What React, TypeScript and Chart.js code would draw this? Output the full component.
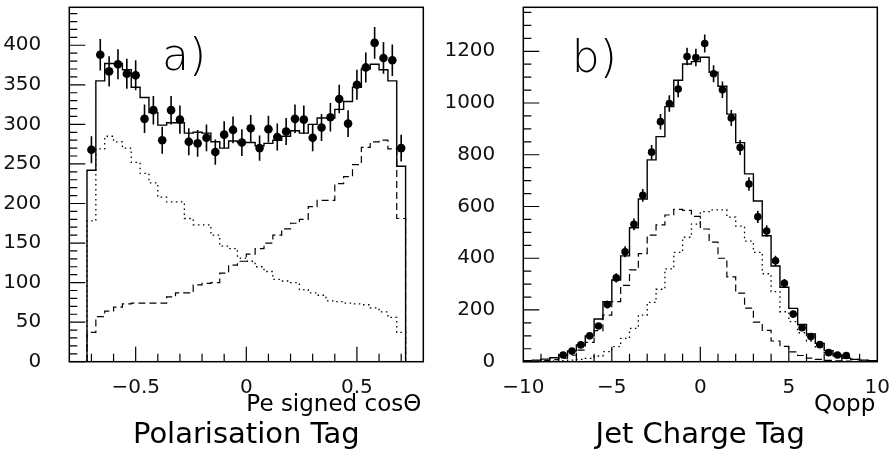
import React, { useEffect, useRef } from "react";
import { Chart, registerables } from "chart.js";

Chart.register(...registerables);

// ---------------- Panel a) Polarisation Tag ----------------
const polBinStart = -0.72;
const polBinWidth = 0.04;
const polData = [268, 388, 367, 376, 364, 362, 307, 318, 280, 318, 306, 278, 276, 283, 265, 287, 293, 277, 295, 270, 294, 284, 291, 307, 306, 283, 296, 309, 332, 301, 350, 372, 403, 384, 381, 270];
const polErr = [17, 20, 19, 19, 19, 19, 18, 18, 17, 18, 18, 17, 17, 17, 16, 17, 17, 17, 17, 16, 17, 17, 17, 18, 18, 17, 17, 18, 18, 17, 19, 19, 20, 20, 20, 17];
const polTotal = [242, 355, 377, 377, 369, 347, 334, 315, 299, 302, 302, 289, 290, 289, 278, 270, 279, 277, 277, 273, 276, 280, 285, 292, 289, 300, 308, 308, 319, 329, 347, 370, 376, 369, 355, 247];
const polDotted = [178, 269, 285, 278, 270, 252, 238, 226, 208, 202, 202, 181, 173, 173, 160, 146, 143, 131, 127, 120, 114, 104, 102, 100, 91, 87, 84, 77, 76, 74, 73, 72, 68, 63, 56, 37];
const polDashed = [37, 57, 64, 69, 73, 74, 74, 74, 74, 82, 87, 87, 97, 99, 100, 112, 122, 127, 136, 143, 150, 160, 168, 175, 180, 196, 204, 204, 225, 234, 249, 271, 278, 280, 269, 181];
const polXTicks = [-0.5, 0, 0.5];
const polXTickLabels = ["\u22120.5", "0", "0.5"];
const polYTicks = [0, 50, 100, 150, 200, 250, 300, 350, 400];

// ---------------- Panel b) Jet Charge Tag ----------------
const jetBinStart = -10;
const jetBinWidth = 0.5;
const jetDataFirstBin = 4;
const jetData = [26, 41, 65, 100, 138, 221, 324, 425, 531, 643, 810, 928, 998, 1054, 1180, 1176, 1230, 1113, 1051, 942, 828, 687, 560, 505, 390, 303, 184, 131, 97, 66, 35, 26, 24];
const jetErr = [5, 6, 8, 10, 12, 15, 18, 21, 23, 25, 28, 30, 32, 32, 34, 34, 35, 33, 32, 31, 29, 26, 24, 22, 20, 17, 14, 11, 10, 8, 6, 5, 5];
const jetTotal = [4, 6, 10, 15, 25, 42, 65, 100, 165, 232, 316, 409, 518, 629, 780, 870, 986, 1088, 1151, 1160, 1177, 1119, 1065, 957, 847, 726, 621, 487, 370, 288, 206, 144, 107, 71, 43, 23, 14, 9, 6, 4];
const jetDashed = [1, 2, 4, 8, 14, 25, 45, 75, 120, 180, 232, 295, 355, 418, 489, 529, 567, 589, 585, 562, 513, 462, 400, 328, 265, 207, 153, 121, 80, 59, 38, 24, 14, 9, 5, 3, 2, 1, 0, 0];
const jetDotted = [0, 0, 1, 2, 4, 6, 9, 13, 22, 39, 58, 90, 129, 180, 229, 280, 359, 423, 481, 532, 580, 587, 587, 559, 524, 466, 423, 340, 271, 193, 155, 112, 80, 55, 35, 24, 15, 9, 5, 3];
const jetXTicks = [-10, -5, 0, 5, 10];
const jetXTickLabels = ["\u221210", "\u22125", "0", "5", "10"];
const jetYTicks = [0, 200, 400, 600, 800, 1000, 1200];

const FONT = "'DejaVu Sans', 'Liberation Sans', sans-serif";

type Pt = { x: number; y: number | null };

function stepPoints(start: number, width: number, vals: number[]): Pt[] {
  const pts: Pt[] = [{ x: start, y: 0 }];
  vals.forEach((v, i) => pts.push({ x: start + i * width, y: v }));
  const end = start + vals.length * width;
  pts.push({ x: end, y: vals[vals.length - 1] });
  pts.push({ x: end, y: 0 });
  return pts;
}

function centerPoints(start: number, width: number, first: number, vals: number[]): Pt[] {
  return vals.map((v, i) => ({ x: start + (first + i + 0.5) * width, y: v }));
}

function errorPoints(start: number, width: number, first: number, vals: number[], errs: number[]): Pt[] {
  const pts: Pt[] = [];
  vals.forEach((v, i) => {
    const x = start + (first + i + 0.5) * width;
    pts.push({ x, y: v - errs[i] });
    pts.push({ x, y: v + errs[i] });
    pts.push({ x, y: null });
  });
  return pts;
}

type Spec = {
  binStart: number;
  binWidth: number;
  dataFirst: number;
  data: number[];
  err: number[];
  total: number[];
  dashed: number[];
  dotted: number[];
  xMin: number;
  xMax: number;
  yMax: number;
  xTicks: number[];
  xTickLabels: string[];
  yTicks: number[];
  xMinor: number;
  xMinorFromK: number;
  xMinorToK: number;
  xMajorEvery: number;
  yMinor: number;
  yMajorEvery: number;
  yAxisWidth: number;
  padRight: number;
  pointRadius: number;
  tag: string;
  tagDx: number;
  tagDy: number;
  xTitle: string;
  title: string;
};

function makeDecor(p: Spec) {
  return {
    id: "decor",
    afterDraw(chart: any) {
      const { ctx, chartArea: ca } = chart;
      const xs = chart.scales.x;
      const ys = chart.scales.y;
      ctx.save();
      ctx.strokeStyle = "#000";
      ctx.lineWidth = 1.2;
      ctx.beginPath();
      for (let k = 0; k * p.yMinor <= p.yMax + 1e-9; k++) {
        const py = ys.getPixelForValue(k * p.yMinor);
        const major = k % p.yMajorEvery === 0;
        ctx.moveTo(ca.left, py);
        ctx.lineTo(ca.left + (major ? 16 : 8), py);
      }
      for (let k = p.xMinorFromK; k <= p.xMinorToK; k++) {
        const px = xs.getPixelForValue(k * p.xMinor);
        const major = k % p.xMajorEvery === 0;
        ctx.moveTo(px, ca.bottom);
        ctx.lineTo(px, ca.bottom - (major ? 15 : 8));
      }
      ctx.stroke();
      ctx.lineWidth = 1.5;
      ctx.strokeRect(ca.left, ca.top, ca.right - ca.left, ca.bottom - ca.top);

      ctx.fillStyle = "#000";
      ctx.textBaseline = "alphabetic";
      ctx.textAlign = "left";
      ctx.font = `200 44px ${FONT}`;
      ctx.fillText(p.tag, ca.left + p.tagDx, ca.top + p.tagDy);
      ctx.textAlign = "right";
      ctx.font = `23px ${FONT}`;
      ctx.fillText(p.xTitle, ca.right - 2, ca.bottom + 49.5);
      ctx.textAlign = "center";
      ctx.font = `29px ${FONT}`;
      ctx.fillText(p.title, (ca.left + ca.right) / 2, ca.bottom + 81.5);
      ctx.restore();
    },
  };
}

function Panel({ spec, left }: { spec: Spec; left: number }) {
  const ref = useRef<HTMLCanvasElement | null>(null);
  useEffect(() => {
    if (!ref.current) return;
    const p = spec;
    const chart = new Chart(ref.current, {
      type: "line",
      data: {
        datasets: [
          {
            data: centerPoints(p.binStart, p.binWidth, p.dataFirst, p.data) as any,
            showLine: false,
            pointRadius: p.pointRadius,
            pointBackgroundColor: "#000",
            pointBorderWidth: 0,
          },
          {
            data: errorPoints(p.binStart, p.binWidth, p.dataFirst, p.data, p.err) as any,
            borderColor: "#000",
            borderWidth: 1.6,
            pointRadius: 0,
            spanGaps: false,
          },
          {
            data: stepPoints(p.binStart, p.binWidth, p.total) as any,
            stepped: "before",
            borderColor: "#000",
            borderWidth: 1.4,
            pointRadius: 0,
          },
          {
            data: stepPoints(p.binStart, p.binWidth, p.dashed) as any,
            stepped: "before",
            borderColor: "#000",
            borderWidth: 1.2,
            borderDash: [7, 4],
            pointRadius: 0,
          },
          {
            data: stepPoints(p.binStart, p.binWidth, p.dotted) as any,
            stepped: "before",
            borderColor: "#000",
            borderWidth: 1.3,
            borderDash: [1.5, 3.5],
            pointRadius: 0,
          },
        ],
      },
      options: {
        responsive: false,
        animation: false,
        events: [],
        layout: { padding: { left: 0, top: 7.3, right: p.padRight, bottom: 0 } },
        plugins: { legend: { display: false }, tooltip: { enabled: false }, title: { display: false } },
        scales: {
          x: {
            type: "linear",
            min: p.xMin,
            max: p.xMax,
            grid: { display: false },
            border: { display: false },
            afterBuildTicks: (scale: any) => {
              scale.ticks = p.xTicks.map((v) => ({ value: v }));
            },
            afterFit: (scale: any) => {
              scale.height = 90.3;
              scale.paddingLeft = 0;
              scale.paddingRight = 0;
            },
            ticks: {
              autoSkip: false,
              maxRotation: 0,
              padding: 6,
              color: "#111",
              font: { family: FONT, size: 20 },
              callback: (v: any) => p.xTickLabels[p.xTicks.indexOf(Number(v))] ?? "",
            },
          },
          y: {
            type: "linear",
            min: 0,
            max: p.yMax,
            grid: { display: false },
            border: { display: false },
            afterBuildTicks: (scale: any) => {
              scale.ticks = p.yTicks.map((v) => ({ value: v }));
            },
            afterFit: (scale: any) => {
              scale.width = p.yAxisWidth;
              scale.paddingTop = 0;
              scale.paddingBottom = 0;
            },
            ticks: {
              autoSkip: false,
              padding: 20,
              color: "#111",
              font: { family: FONT, size: 20 },
              callback: (v: any) => String(v),
            },
          },
        },
      },
      plugins: [makeDecor(p)],
    } as any);
    return () => chart.destroy();
  }, [spec]);
  return (
    <canvas
      ref={ref}
      width={445}
      height={452}
      style={{ position: "absolute", left, top: 0, width: 445, height: 452 }}
    />
  );
}

const polSpec: Spec = {
  binStart: polBinStart,
  binWidth: polBinWidth,
  dataFirst: 0,
  data: polData,
  err: polErr,
  total: polTotal,
  dashed: polDashed,
  dotted: polDotted,
  xMin: -0.8,
  xMax: 0.8,
  yMax: 448,
  xTicks: polXTicks,
  xTickLabels: polXTickLabels,
  yTicks: polYTicks,
  xMinor: 0.1,
  xMinorFromK: -7,
  xMinorToK: 7,
  xMajorEvery: 5,
  yMinor: 10,
  yMajorEvery: 5,
  yAxisWidth: 69.3,
  padRight: 21.7,
  pointRadius: 4.3,
  tag: "a)",
  tagDx: 92.7,
  tagDy: 62.7,
  xTitle: "Pe signed cos\u0398",
  title: "Polarisation Tag",
};

const jetSpec: Spec = {
  binStart: jetBinStart,
  binWidth: jetBinWidth,
  dataFirst: jetDataFirstBin,
  data: jetData,
  err: jetErr,
  total: jetTotal,
  dashed: jetDashed,
  dotted: jetDotted,
  xMin: -10,
  xMax: 10,
  yMax: 1370,
  xTicks: jetXTicks,
  xTickLabels: jetXTickLabels,
  yTicks: jetYTicks,
  xMinor: 1,
  xMinorFromK: -9,
  xMinorToK: 9,
  xMajorEvery: 5,
  yMinor: 50,
  yMajorEvery: 4,
  yAxisWidth: 78.3,
  padRight: 12.7,
  pointRadius: 3.8,
  tag: "b)",
  tagDx: 48.4,
  tagDy: 64.4,
  xTitle: "Qopp",
  title: "Jet Charge Tag",
};

export default function App() {
  return (
    <div style={{ position: "absolute", left: 0, top: 0, width: 890, height: 452, background: "#fff" }}>
      <Panel spec={polSpec} left={0} />
      <Panel spec={jetSpec} left={445} />
    </div>
  );
}
